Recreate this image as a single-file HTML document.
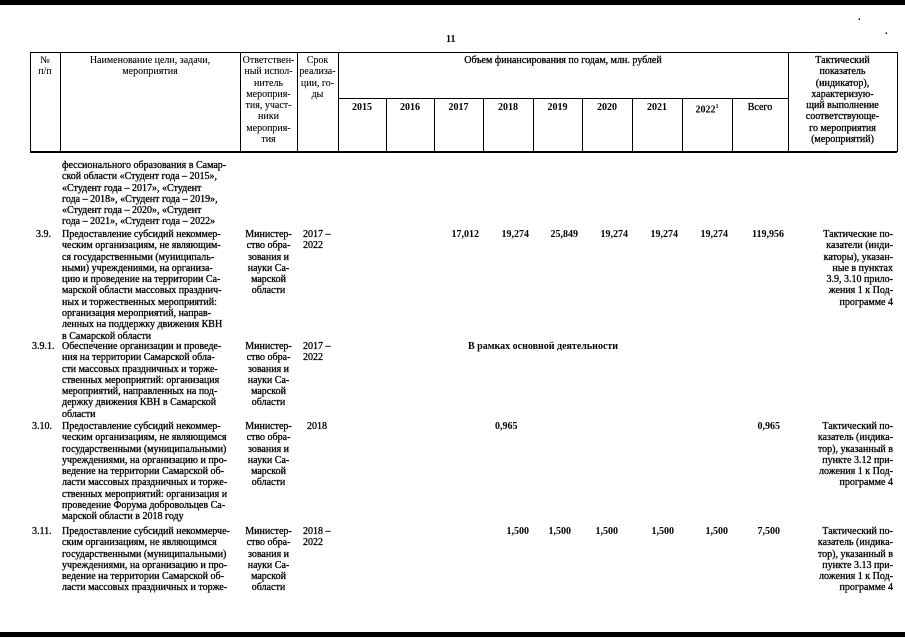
<!DOCTYPE html>
<html><head><meta charset="utf-8"><style>
body{margin:0;width:905px;height:640px;background:#fff;position:relative;overflow:hidden;font-family:"Liberation Serif",serif;color:#000;}
.a{position:absolute;font-size:10px;line-height:11.3px;-webkit-text-stroke:0.3px #000;white-space:nowrap}
.c{text-align:center}
.r{text-align:right}
.b{font-weight:bold;-webkit-text-stroke:0}
.h{-webkit-text-stroke:0.1px #000}
.l{position:absolute;background:#000}
</style></head><body>
<div class="l" style="left:0;top:0;width:905px;height:5px"></div>
<div class="l" style="left:0;top:632px;width:905px;height:5px"></div>
<div class="a b" style="left:446px;top:34px">11</div>
<div class="a b" style="left:858px;top:12px">.</div>
<div class="a b" style="left:885px;top:26px">.</div>
<div class="l" style="left:30px;top:52px;width:867px;height:1px"></div>
<div class="l" style="left:30px;top:151px;width:867px;height:1.5px"></div>
<div class="l" style="left:338px;top:98px;width:450px;height:1px"></div>
<div class="l" style="left:30px;top:52px;width:1px;height:100px"></div>
<div class="l" style="left:60px;top:52px;width:1px;height:100px"></div>
<div class="l" style="left:240px;top:52px;width:1px;height:100px"></div>
<div class="l" style="left:297px;top:52px;width:1px;height:100px"></div>
<div class="l" style="left:338px;top:52px;width:1px;height:100px"></div>
<div class="l" style="left:386px;top:98px;width:1px;height:54px"></div>
<div class="l" style="left:434px;top:98px;width:1px;height:54px"></div>
<div class="l" style="left:483px;top:98px;width:1px;height:54px"></div>
<div class="l" style="left:533px;top:98px;width:1px;height:54px"></div>
<div class="l" style="left:582px;top:98px;width:1px;height:54px"></div>
<div class="l" style="left:632px;top:98px;width:1px;height:54px"></div>
<div class="l" style="left:682px;top:98px;width:1px;height:54px"></div>
<div class="l" style="left:732px;top:98px;width:1px;height:54px"></div>
<div class="l" style="left:788px;top:52px;width:1px;height:100px"></div>
<div class="l" style="left:897px;top:52px;width:1px;height:100px"></div>
<div class="a c h" style="left:30px;width:30px;top:55px">№<br>п/п</div>
<div class="a c h" style="left:60px;width:180px;top:55px">Наименование цели, задачи,<br>мероприятия</div>
<div class="a c h" style="left:240px;width:57px;top:55px">Ответствен-<br>ный испол-<br>нитель<br>мероприя-<br>тия, участ-<br>ники<br>мероприя-<br>тия</div>
<div class="a c h" style="left:297px;width:41px;top:55px">Срок<br>реализа-<br>ции, го-<br>ды</div>
<div class="a c" style="left:338px;width:450px;top:55px">Объем финансирования по годам, млн. рублей</div>
<div class="a c b" style="left:338px;width:48px;top:102px">2015</div>
<div class="a c b" style="left:386px;width:48px;top:102px">2016</div>
<div class="a c b" style="left:434px;width:49px;top:102px">2017</div>
<div class="a c b" style="left:483px;width:50px;top:102px">2018</div>
<div class="a c b" style="left:533px;width:49px;top:102px">2019</div>
<div class="a c b" style="left:582px;width:50px;top:102px">2020</div>
<div class="a c b" style="left:632px;width:50px;top:102px">2021</div>
<div class="a c b" style="left:682px;width:50px;top:102px">2022<sup style="font-size:6px">1</sup></div>
<div class="a c" style="left:732px;width:56px;top:102px">Всего</div>
<div class="a c" style="left:788px;width:109px;top:55px">Тактический<br>показатель<br>(индикатор),<br>характеризую-<br>щий выполнение<br>соответствующе-<br>го мероприятия<br>(мероприятий)</div>
<div class="a" style="left:62px;top:160px">фессионального образования в Самар-<br>ской области «Студент года – 2015»,<br>«Студент года – 2017», «Студент<br>года – 2018», «Студент года – 2019»,<br>«Студент года – 2020», «Студент<br>года – 2021», «Студент года – 2022»</div>

<div class="a" style="left:36px;top:229px">3.9.</div>
<div class="a" style="left:62px;top:229px">Предоставление субсидий некоммер-<br>ческим организациям, не являющим-<br>ся государственными (муниципаль-<br>ными) учреждениями, на организа-<br>цию и проведение на территории Са-<br>марской области массовых празднич-<br>ных и торжественных мероприятий:<br>организация мероприятий, направ-<br>ленных на поддержку движения КВН<br>в Самарской области</div>
<div class="a c" style="left:240px;width:57px;top:229px">Министер-<br>ство обра-<br>зования и<br>науки Са-<br>марской<br>области</div>
<div class="a" style="left:303px;top:229px">2017 –<br>2022</div>
<div class="a b r" style="left:434px;width:45px;top:229px">17,012</div>
<div class="a b r" style="left:483px;width:46px;top:229px">19,274</div>
<div class="a b r" style="left:533px;width:45px;top:229px">25,849</div>
<div class="a b r" style="left:582px;width:46px;top:229px">19,274</div>
<div class="a b r" style="left:632px;width:46px;top:229px">19,274</div>
<div class="a b r" style="left:682px;width:46px;top:229px">19,274</div>
<div class="a b r" style="left:732px;width:52px;top:229px">119,956</div>
<div class="a r" style="left:790px;width:103px;top:229px">Тактические по-<br>казатели (инди-<br>каторы), указан-<br>ные в пунктах<br>3.9, 3.10 прило-<br>жения 1 к Под-<br>программе 4</div>

<div class="a" style="left:32px;top:341px">3.9.1.</div>
<div class="a" style="left:62px;top:341px">Обеспечение организации и проведе-<br>ния на территории Самарской обла-<br>сти массовых праздничных и торже-<br>ственных мероприятий: организация<br>мероприятий, направленных на под-<br>держку движения КВН в Самарской<br>области</div>
<div class="a c" style="left:240px;width:57px;top:341px">Министер-<br>ство обра-<br>зования и<br>науки Са-<br>марской<br>области</div>
<div class="a" style="left:303px;top:341px">2017 –<br>2022</div>
<div class="a b" style="left:468px;top:341px">В рамках основной деятельности</div>

<div class="a" style="left:32px;top:421px">3.10.</div>
<div class="a" style="left:62px;top:421px">Предоставление субсидий некоммер-<br>ческим организациям, не являющимся<br>государственными (муниципальными)<br>учреждениями, на организацию и про-<br>ведение на территории Самарской об-<br>ласти массовых праздничных и торже-<br>ственных мероприятий: организация и<br>проведение Форума добровольцев Са-<br>марской области в 2018 году</div>
<div class="a c" style="left:240px;width:57px;top:421px">Министер-<br>ство обра-<br>зования и<br>науки Са-<br>марской<br>области</div>
<div class="a" style="left:307px;top:421px">2018</div>
<div class="a b" style="left:495px;top:421px">0,965</div>
<div class="a b r" style="left:732px;width:48px;top:421px">0,965</div>
<div class="a r" style="left:790px;width:103px;top:421px">Тактический по-<br>казатель (индика-<br>тор), указанный в<br>пункте 3.12 при-<br>ложения 1 к Под-<br>программе 4</div>

<div class="a" style="left:32px;top:526px">3.11.</div>
<div class="a" style="left:62px;top:526px">Предоставление субсидий некоммерче-<br>ским организациям, не являющимся<br>государственными (муниципальными)<br>учреждениями, на организацию и про-<br>ведение на территории Самарской об-<br>ласти массовых праздничных и торже-</div>
<div class="a c" style="left:240px;width:57px;top:526px">Министер-<br>ство обра-<br>зования и<br>науки Са-<br>марской<br>области</div>
<div class="a" style="left:303px;top:526px">2018 –<br>2022</div>
<div class="a b r" style="left:483px;width:46px;top:526px">1,500</div>
<div class="a b r" style="left:533px;width:38px;top:526px">1,500</div>
<div class="a b r" style="left:582px;width:36px;top:526px">1,500</div>
<div class="a b r" style="left:632px;width:42px;top:526px">1,500</div>
<div class="a b r" style="left:682px;width:46px;top:526px">1,500</div>
<div class="a b r" style="left:732px;width:48px;top:526px">7,500</div>
<div class="a r" style="left:790px;width:103px;top:526px">Тактический по-<br>казатель (индика-<br>тор), указанный в<br>пункте 3.13 при-<br>ложения 1 к Под-<br>программе 4</div>
</body></html>
